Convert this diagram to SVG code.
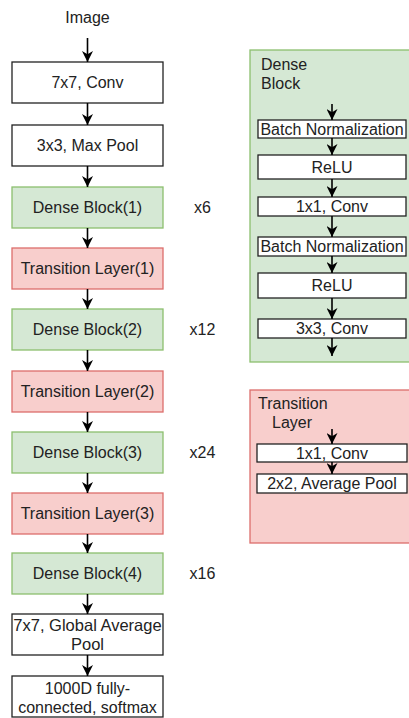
<svg xmlns="http://www.w3.org/2000/svg" width="409" height="718" viewBox="0 0 409 718">
<defs>
<marker id="ah" viewBox="0 0 10 10" refX="10" refY="5" markerWidth="11" markerHeight="11" markerUnits="userSpaceOnUse" orient="auto">
<path d="M0,0 L10,5 L0,10 L3,5 z" fill="#000"/>
</marker>
<style>
text{font-family:"Liberation Sans",Arial,sans-serif;font-size:16px;fill:#222;}
.c{text-anchor:middle;}
.w{fill:#fff;stroke:#222;stroke-width:1.3;}
.g{fill:#d5e8d4;stroke:#8cbf6e;stroke-width:1.3;}
.r{fill:#f8cecc;stroke:#dc6e6c;stroke-width:1.3;}
.a{stroke:#000;stroke-width:1.6;fill:none;marker-end:url(#ah);}
</style>
</defs>
<rect width="409" height="718" fill="#fff"/>
<g id="containers">
<g id="dense-block-detail"><rect class="g" x="250" y="50" width="170" height="312"/><text x="261" y="70">Dense</text><text x="261" y="89">Block</text></g>
<g id="transition-detail"><rect class="r" x="250" y="390" width="170" height="153"/><text x="258" y="409">Transition</text><text x="272" y="428">Layer</text></g>
</g>
<g id="image"><text class="c" x="87.5" y="23">Image</text></g>
<g id="conv7"><rect class="w" x="12" y="62" width="151" height="41"/><text class="c" x="87.5" y="88">7x7, Conv</text></g>
<g id="maxpool"><rect class="w" x="12" y="125" width="151" height="41"/><text class="c" x="87.5" y="151">3x3, Max Pool</text></g>
<g id="db1"><rect class="g" x="12" y="187" width="151" height="41"/><text class="c" x="87.5" y="213">Dense Block(1)</text><text class="c" x="202.5" y="213">x6</text></g>
<g id="tl1"><rect class="r" x="12" y="248" width="151" height="41"/><text class="c" x="87.5" y="274">Transition Layer(1)</text></g>
<g id="db2"><rect class="g" x="12" y="309" width="151" height="41"/><text class="c" x="87.5" y="335">Dense Block(2)</text><text class="c" x="202.5" y="335">x12</text></g>
<g id="tl2"><rect class="r" x="12" y="371" width="151" height="41"/><text class="c" x="87.5" y="397">Transition Layer(2)</text></g>
<g id="db3"><rect class="g" x="12" y="432" width="151" height="41"/><text class="c" x="87.5" y="458">Dense Block(3)</text><text class="c" x="202.5" y="458">x24</text></g>
<g id="tl3"><rect class="r" x="12" y="493" width="151" height="41"/><text class="c" x="87.5" y="519">Transition Layer(3)</text></g>
<g id="db4"><rect class="g" x="12" y="553" width="151" height="41"/><text class="c" x="87.5" y="579">Dense Block(4)</text><text class="c" x="202.5" y="579">x16</text></g>
<g id="gap"><rect class="w" x="12" y="614" width="151" height="41"/><text class="c" x="87.5" y="631" style="font-size:16.5px">7x7, Global Average</text><text class="c" x="87.5" y="650" style="font-size:16.5px">Pool</text></g>
<g id="fc"><rect class="w" x="12" y="676" width="151" height="41"/><text class="c" x="87.5" y="694">1000D fully-</text><text class="c" x="87.5" y="713">connected, softmax</text></g>
<g id="bn1"><rect class="w" x="258" y="120" width="148" height="18"/><text class="c" x="332" y="135">Batch Normalization</text></g>
<g id="relu1"><rect class="w" x="258" y="155" width="148" height="24"/><text class="c" x="332" y="173">ReLU</text></g>
<g id="conv1x1a"><rect class="w" x="258" y="197" width="148" height="19"/><text class="c" x="332" y="212">1x1, Conv</text></g>
<g id="bn2"><rect class="w" x="258" y="237" width="148" height="19"/><text class="c" x="332" y="252">Batch Normalization</text></g>
<g id="relu2"><rect class="w" x="258" y="273" width="148" height="25"/><text class="c" x="332" y="291">ReLU</text></g>
<g id="conv3x3"><rect class="w" x="258" y="319" width="148" height="19"/><text class="c" x="332" y="334">3x3, Conv</text></g>
<g id="conv1x1b"><rect class="w" x="257" y="444" width="150" height="18"/><text class="c" x="332" y="459">1x1, Conv</text></g>
<g id="avgpool"><rect class="w" x="257" y="474" width="150" height="19"/><text class="c" x="332" y="489">2x2, Average Pool</text></g>
<g id="connectors">
<line class="a" x1="87.5" y1="38" x2="87.5" y2="62"/>
<line class="a" x1="87.5" y1="103" x2="87.5" y2="125"/>
<line class="a" x1="87.5" y1="166" x2="87.5" y2="187"/>
<line class="a" x1="87.5" y1="228" x2="87.5" y2="248"/>
<line class="a" x1="87.5" y1="289" x2="87.5" y2="309"/>
<line class="a" x1="87.5" y1="350" x2="87.5" y2="371"/>
<line class="a" x1="87.5" y1="412" x2="87.5" y2="432"/>
<line class="a" x1="87.5" y1="473" x2="87.5" y2="493"/>
<line class="a" x1="87.5" y1="534" x2="87.5" y2="553"/>
<line class="a" x1="87.5" y1="594" x2="87.5" y2="614"/>
<line class="a" x1="87.5" y1="655" x2="87.5" y2="676"/>
<line class="a" x1="332" y1="104" x2="332" y2="120"/>
<line class="a" x1="332" y1="138" x2="332" y2="155"/>
<line class="a" x1="332" y1="179" x2="332" y2="197"/>
<line class="a" x1="332" y1="216" x2="332" y2="237"/>
<line class="a" x1="332" y1="256" x2="332" y2="273"/>
<line class="a" x1="332" y1="298" x2="332" y2="319"/>
<line class="a" x1="332" y1="338" x2="332" y2="356"/>
<line class="a" x1="332" y1="429" x2="332" y2="444"/>
<line class="a" x1="332" y1="462" x2="332" y2="474"/>
</g>
</svg>
